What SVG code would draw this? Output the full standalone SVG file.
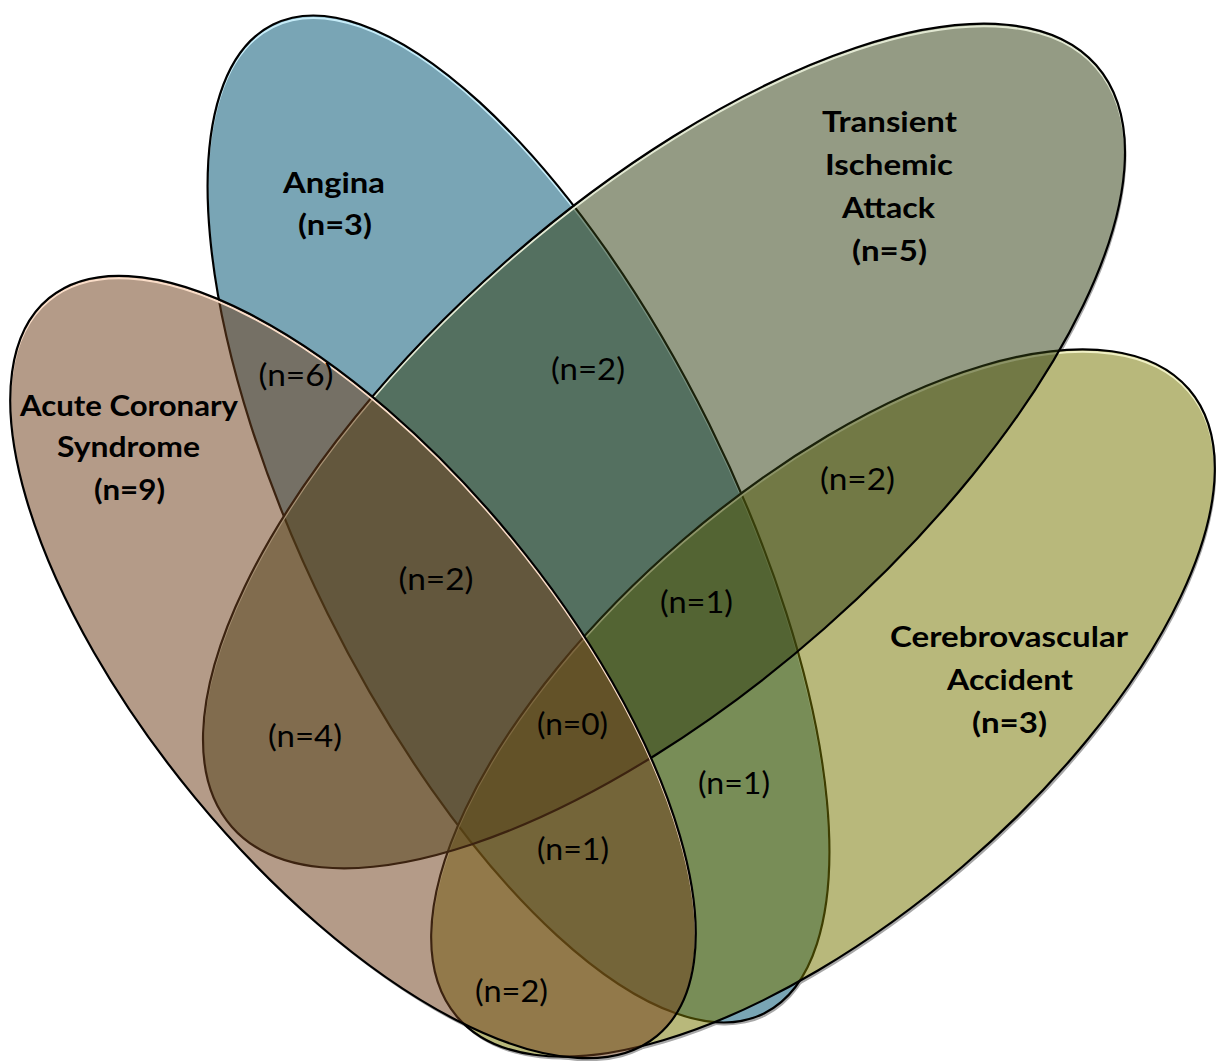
<svg xmlns="http://www.w3.org/2000/svg" xmlns:xlink="http://www.w3.org/1999/xlink" width="1216" height="1061" viewBox="0 0 1216 1061">
<style>
.outline{fill:none;stroke:#000;stroke-width:2.2}
.hl{fill:none;stroke-width:2}
.lbl{font-family:Lato,"Liberation Sans",sans-serif;font-size:29px;font-weight:700;fill:#000;text-anchor:middle}
.cnt{font-family:Lato,"Liberation Sans",sans-serif;font-size:30px;font-weight:400;fill:#000;text-anchor:middle}
</style>
<defs>
<ellipse id="eA" cx="518.5" cy="519" rx="552" ry="213" transform="rotate(63.6 518.5 519)"/>
<ellipse id="eC" cx="823" cy="703" rx="482" ry="215" transform="rotate(-40.6 823 703)"/>
<ellipse id="eT" cx="664" cy="446" rx="576" ry="243" transform="rotate(-41.4 664 446)"/>
<ellipse id="eS" cx="353" cy="667" rx="478" ry="205" transform="rotate(50.5 353 667)"/>
<clipPath id="cA"><use xlink:href="#eA"/></clipPath>
<clipPath id="cC"><use xlink:href="#eC"/></clipPath>
<clipPath id="cT"><use xlink:href="#eT"/></clipPath>
<clipPath id="cS"><use xlink:href="#eS"/></clipPath>
<mask id="outside" maskUnits="userSpaceOnUse" x="0" y="0" width="1216" height="1061">
<rect x="0" y="0" width="1216" height="1061" fill="#fff"/>
<g fill="#000"><use xlink:href="#eA"/><use xlink:href="#eC"/><use xlink:href="#eT"/><use xlink:href="#eS"/></g>
</mask>
</defs>
<rect x="0" y="0" width="1216" height="1061" fill="#fff"/>
<g id="shadow" mask="url(#outside)">
<g transform="translate(1.5 3)" fill="#a8a8a8"><use xlink:href="#eA"/><use xlink:href="#eC"/><use xlink:href="#eT"/><use xlink:href="#eS"/></g>
</g>
<g id="node-angina">
<use xlink:href="#eA" fill="#79A5B5"/>
<g clip-path="url(#cA)"><use xlink:href="#eA" class="hl" stroke="#C6ECF8" transform="translate(0 2.5)"/></g>
<use xlink:href="#eA" class="outline"/>
<text class="lbl" x="334" y="193" textLength="102" lengthAdjust="spacingAndGlyphs">Angina</text>
<text class="lbl" x="335" y="235" textLength="74" lengthAdjust="spacingAndGlyphs">(n=3)</text>
</g>
<g id="node-cva">
<use xlink:href="#eC" fill="#767601" fill-opacity="0.52"/>
<g clip-path="url(#cC)"><use xlink:href="#eC" class="hl" stroke="#F0F0C4" transform="translate(0 2.5)"/></g>
<use xlink:href="#eC" class="outline"/>
<text class="lbl" x="1009" y="647" textLength="238" lengthAdjust="spacingAndGlyphs">Cerebrovascular</text>
<text class="lbl" x="1010" y="690" textLength="126" lengthAdjust="spacingAndGlyphs">Accident</text>
<text class="lbl" x="1009.5" y="733" textLength="75" lengthAdjust="spacingAndGlyphs">(n=3)</text>
</g>
<g id="node-tia">
<use xlink:href="#eT" fill="#313F14" fill-opacity="0.52"/>
<g clip-path="url(#cT)"><use xlink:href="#eT" class="hl" stroke="#E2E8D2" transform="translate(0 2.5)"/></g>
<use xlink:href="#eT" class="outline"/>
<text class="lbl" x="889.5" y="132" textLength="135" lengthAdjust="spacingAndGlyphs">Transient</text>
<text class="lbl" x="889" y="175" textLength="128" lengthAdjust="spacingAndGlyphs">Ischemic</text>
<text class="lbl" x="888.5" y="218" textLength="93" lengthAdjust="spacingAndGlyphs">Attack</text>
<text class="lbl" x="889.5" y="261" textLength="75" lengthAdjust="spacingAndGlyphs">(n=5)</text>
</g>
<g id="node-acs">
<use xlink:href="#eS" fill="#71421E" fill-opacity="0.53"/>
<g clip-path="url(#cS)"><use xlink:href="#eS" class="hl" stroke="#FADDC8" transform="translate(0 2.5)"/></g>
<use xlink:href="#eS" class="outline"/>
<text class="lbl" x="129" y="416" textLength="218" lengthAdjust="spacingAndGlyphs">Acute Coronary</text>
<text class="lbl" x="128.5" y="457" textLength="143" lengthAdjust="spacingAndGlyphs">Syndrome</text>
<text class="lbl" x="129.5" y="500" textLength="71" lengthAdjust="spacingAndGlyphs">(n=9)</text>
</g>
<g id="counts">
<text class="cnt" x="296" y="386" textLength="75" lengthAdjust="spacingAndGlyphs">(n=6)</text>
<text class="cnt" x="588" y="380" textLength="74" lengthAdjust="spacingAndGlyphs">(n=2)</text>
<text class="cnt" x="857.5" y="490" textLength="75" lengthAdjust="spacingAndGlyphs">(n=2)</text>
<text class="cnt" x="436" y="590" textLength="75" lengthAdjust="spacingAndGlyphs">(n=2)</text>
<text class="cnt" x="696.5" y="613" textLength="73" lengthAdjust="spacingAndGlyphs">(n=1)</text>
<text class="cnt" x="305" y="747" textLength="74" lengthAdjust="spacingAndGlyphs">(n=4)</text>
<text class="cnt" x="572.5" y="735" textLength="71" lengthAdjust="spacingAndGlyphs">(n=0)</text>
<text class="cnt" x="734" y="794" textLength="72" lengthAdjust="spacingAndGlyphs">(n=1)</text>
<text class="cnt" x="573" y="860" textLength="72" lengthAdjust="spacingAndGlyphs">(n=1)</text>
<text class="cnt" x="511.5" y="1002" textLength="73" lengthAdjust="spacingAndGlyphs">(n=2)</text>
</g>
</svg>
